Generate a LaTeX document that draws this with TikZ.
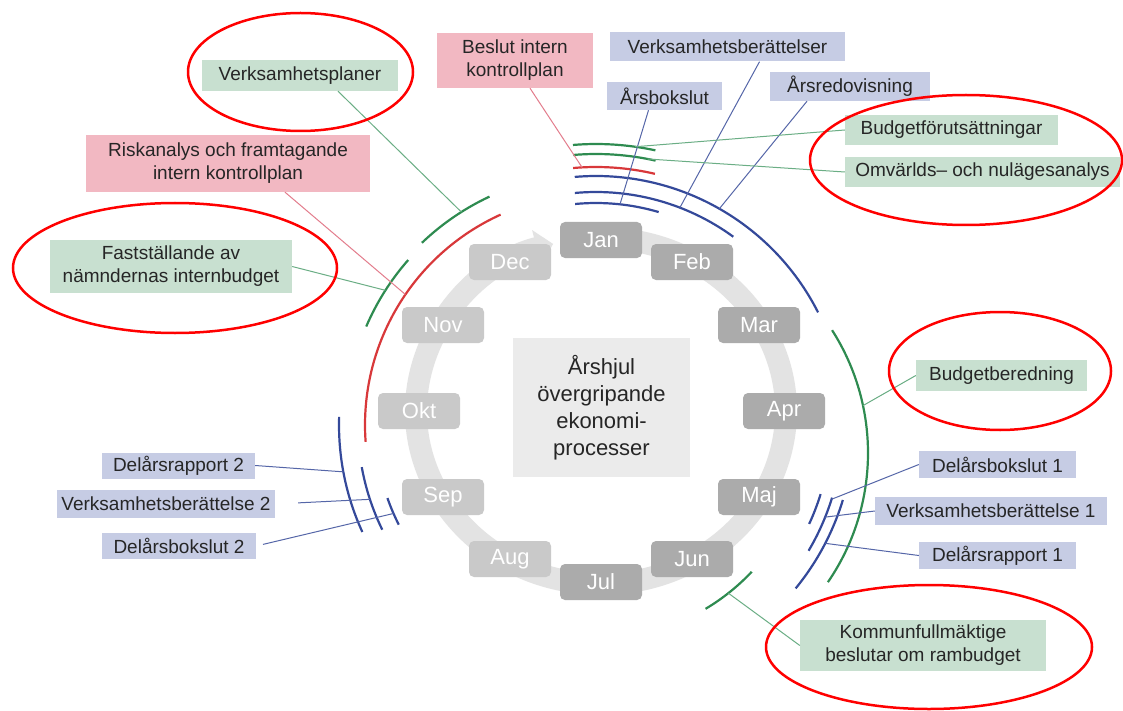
\documentclass[tikz,border=0pt]{standalone}
\usepackage{fontspec}
\setmainfont{Liberation Sans}
\usetikzlibrary{arrows.meta}
\definecolor{boxgreen}{HTML}{C8E0D0}
\definecolor{boxred}{HTML}{F2B8C2}
\definecolor{boxblue}{HTML}{C6CCE4}
\definecolor{arcgreen}{HTML}{2E8B50}
\definecolor{arcred}{HTML}{D8383A}
\definecolor{arcblue}{HTML}{34499A}
\definecolor{lgreen}{HTML}{6BAE85}
\definecolor{lred}{HTML}{E37D8D}
\definecolor{lblue}{HTML}{5566A8}
\definecolor{monthdark}{HTML}{ABABAB}
\definecolor{monthlight}{HTML}{C9C9C9}
\definecolor{ringgray}{HTML}{E3E3E3}
\definecolor{centergray}{HTML}{EBEBEB}
\definecolor{txt}{HTML}{262626}
\newcommand{\wheelarc}[6]{\draw[#1] ([shift={(#5:#4)}]#2,#3) arc[start angle=#5, end angle=#6, radius=#4];}
\newcommand{\arcpoint}[5]{\coordinate (#1) at ([shift={(#5:#4)}]#2,#3);}
\begin{document}
\begin{tikzpicture}[x=1pt,y=-1pt,
  lbl/.style={inner sep=0pt, align=center, text=txt, font=\fontsize{19}{23}\selectfont},
  gbox/.style={lbl, fill=boxgreen},
  rbox/.style={lbl, fill=boxred},
  bbox/.style={lbl, fill=boxblue},
  month/.style={rounded corners=5pt, minimum width=82pt, minimum height=36pt, inner sep=0pt, text=white, font=\fontsize{22}{26}\selectfont},
  mdark/.style={month, fill=monthdark},
  mlight/.style={month, fill=monthlight},
  garc/.style={draw=arcgreen, line width=2.2pt},
  rarc/.style={draw=arcred, line width=2.2pt},
  barc/.style={draw=arcblue, line width=2.2pt},
  gcon/.style={draw=lgreen, line width=1pt},
  rcon/.style={draw=lred, line width=1pt},
  bcon/.style={draw=lblue, line width=1pt},
  mark ellipse/.style={draw=red, line width=2.5pt}
]
\useasboundingbox (0,0) rectangle (1123,711);
\fill[white] (0,0) rectangle (1123,711);

% ring with arrow
\draw[ringgray, line width=22pt, -{Triangle[width=36pt,length=17pt]}]
  ([shift={(-80:185 and 173)}]601,411) arc[start angle=-80, end angle=255, x radius=185, y radius=173];

% centre box
\node[fill=centergray, minimum width=177pt, minimum height=139pt, inner sep=0pt, align=center, text=txt,
      font=\fontsize{22}{27}\selectfont] (hub) at (601.5,407.5) {Årshjul\\övergripande\\ekonomi-\\processer};

% months
\node[mdark]  (jan) at (601,240) {Jan};
\node[mdark]  (feb) at (692,262) {Feb};
\node[mdark]  (mar) at (759,325) {Mar};
\node[mdark]  (apr) at (784,411) {Apr};
\node[mdark]  (maj) at (759,497) {Maj};
\node[mdark]  (jun) at (692,559) {Jun};
\node[mdark]  (jul) at (601,582) {Jul};
\node[mlight] (aug) at (510,559) {Aug};
\node[mlight] (sep) at (443,497) {Sep};
\node[mlight] (okt) at (419,411) {Okt};
\node[mlight] (nov) at (443,325) {Nov};
\node[mlight] (dec) at (510,262) {Dec};

% arcs: top group
\wheelarc{garc}{596}{425}{281}{-94.7}{-77.8}
\wheelarc{garc}{596}{425}{271}{-94.8}{-77.3}
\wheelarc{rarc}{596}{425}{258}{-95.1}{-76.8}
\wheelarc{barc}{596}{425}{249}{-94.9}{-26.9}
\wheelarc{barc}{596}{425}{233}{-95.2}{-53.9}
\wheelarc{barc}{596}{425}{222}{-95.4}{-73.6}
% left group
\wheelarc{garc}{596}{425}{252}{-133.7}{-115}
\wheelarc{garc}{596}{425}{250}{-156.8}{-138.7}
\wheelarc{rarc}{596}{425}{231}{175.8}{245.6}
\wheelarc{barc}{596}{425}{257}{155.4}{181.8}
\wheelarc{barc}{596}{425}{238}{153.9}{169.8}
\wheelarc{barc}{596}{425}{221}{153.2}{160.7}
% right group
\wheelarc{barc}{596}{425}{235}{17.1}{24.9}
\wheelarc{barc}{596}{425}{247}{17.1}{30.6}
\wheelarc{barc}{596}{425}{258}{16.9}{39.3}
\wheelarc{garc}{640}{453}{228}{-32.6}{34.5}
\wheelarc{garc}{596}{425}{214}{43.3}{59.2}

% connector end points on arcs
\arcpoint{pBes}{596}{425}{258}{-93.1}
\arcpoint{pArb}{596}{425}{222}{-83.8}
\arcpoint{pVbs}{596}{425}{233}{-68.9}
\arcpoint{pArd}{596}{425}{249}{-60.3}
\arcpoint{pBf}{596}{425}{281}{-82}
\arcpoint{pOm}{596}{425}{271}{-79}
\arcpoint{pVp}{596}{425}{252}{-122.3}
\arcpoint{pRis}{596}{425}{231}{214.4}
\arcpoint{pFa}{596}{425}{250}{212.6}
\arcpoint{pDr2}{596}{425}{257}{169.5}
\arcpoint{pVb2}{596}{425}{238}{161.8}
\arcpoint{pDb2}{596}{425}{221}{156.4}
\arcpoint{pDb1}{596}{425}{247}{17.5}
\arcpoint{pVb1}{596}{425}{247}{21.9}
\arcpoint{pDr1}{596}{425}{258}{27.3}
\arcpoint{pBb}{640}{453}{228}{-12}
\arcpoint{pKm}{596}{425}{214}{51.8}

% label boxes
\node[gbox, minimum width=196pt, minimum height=31pt] (vp)  at (300,75.5)   {Verksamhetsplaner};
\node[rbox, minimum width=284pt, minimum height=57pt] (ris) at (228,163.5)  {Riskanalys och framtagande\\intern kontrollplan};
\node[gbox, minimum width=242pt, minimum height=53pt] (fa)  at (171,266.5)  {Fastställande av\\nämndernas internbudget};
\node[rbox, minimum width=156pt, minimum height=55pt] (bes) at (515,60.5)   {Beslut intern\\kontrollplan};
\node[bbox, minimum width=235pt, minimum height=29pt] (vbs) at (727.5,47)   {Verksamhetsberättelser};
\node[bbox, minimum width=115pt, minimum height=28pt] (arb) at (664.5,96)   {Årsbokslut};
\node[bbox, minimum width=160pt, minimum height=29pt] (ard) at (850,86.5)   {Årsredovisning};
\node[gbox, minimum width=213pt, minimum height=30pt] (bf)  at (951.5,130)  {Budgetförutsättningar};
\node[gbox, minimum width=275pt, minimum height=30pt] (om)  at (982.5,172)  {Omvärlds– och nulägesanalys};
\node[gbox, minimum width=171pt, minimum height=31pt] (bb)  at (1001.5,375.5) {Budgetberedning};
\node[bbox, minimum width=157pt, minimum height=27pt] (db1) at (997.5,464.5) {Delårsbokslut 1};
\node[bbox, minimum width=232pt, minimum height=28pt] (vb1) at (991,511)    {Verksamhetsberättelse 1};
\node[bbox, minimum width=157pt, minimum height=27pt] (dr1) at (997.5,555.5) {Delårsrapport 1};
\node[gbox, minimum width=246pt, minimum height=51pt] (km)  at (923,645.5)  {Kommunfullmäktige\\beslutar om rambudget};
\node[bbox, minimum width=153pt, minimum height=26pt] (dr2) at (178.5,465.5) {Delårsrapport 2};
\node[bbox, minimum width=218pt, minimum height=28pt] (vb2) at (166,504)    {Verksamhetsberättelse 2};
\node[bbox, minimum width=154pt, minimum height=26pt] (db2) at (179,546)    {Delårsbokslut 2};

% connectors
\draw[rcon] ([xshift=15pt]bes.south) -- (pBes);
\draw[bcon] ([xshift=-16pt]arb.south) -- (pArb);
\draw[bcon] ([xshift=32pt]vbs.south) -- (pVbs);
\draw[bcon] ([xshift=-43pt]ard.south) -- (pArd);
\draw[gcon] (bf.west) -- (pBf);
\draw[gcon] (om.west) -- (pOm);
\draw[gcon] ([xshift=38pt]vp.south) -- (pVp);
\draw[rcon] ([xshift=57pt]ris.south) -- (pRis);
\draw[gcon] (fa.east) -- (pFa);
\draw[bcon] (dr2.east) -- (pDr2);
\draw[bcon, shorten <=23pt] (vb2.east) -- (pVb2);
\draw[bcon, shorten <=7pt] (db2.east) -- (pDb2);
\draw[bcon] (db1.west) -- (pDb1);
\draw[bcon] (vb1.west) -- (pVb1);
\draw[bcon] (dr1.west) -- (pDr1);
\draw[gcon] (bb.west) -- (pBb);
\draw[gcon] (km.west) -- (pKm);

% red annotation ellipses
\draw[mark ellipse] (300.5,72) ellipse[x radius=112.5, y radius=59];
\draw[mark ellipse] (175,268) ellipse[x radius=162, y radius=65];
\draw[mark ellipse] (966,160) ellipse[x radius=156, y radius=65];
\draw[mark ellipse] (1000,371) ellipse[x radius=111, y radius=59];
\draw[mark ellipse] (929,647) ellipse[x radius=163, y radius=62];
\end{tikzpicture}
\end{document}
